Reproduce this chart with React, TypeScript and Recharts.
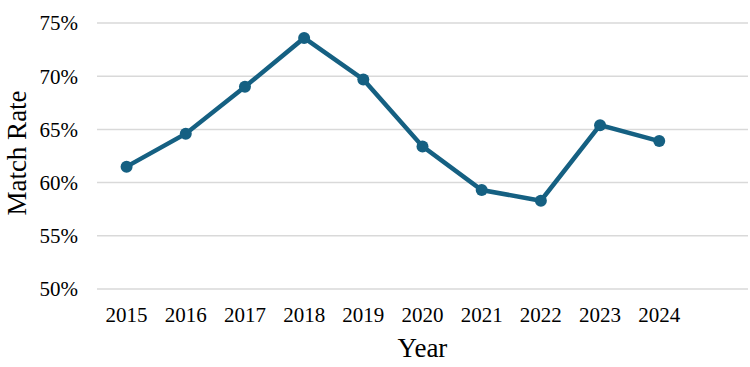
import { LineChart, Line, XAxis, YAxis, CartesianGrid } from 'recharts'

const years = [2015, 2016, 2017, 2018, 2019, 2020, 2021, 2022, 2023, 2024]
const matchRate = [61.5, 64.6, 69.0, 73.6, 69.7, 63.4, 59.3, 58.3, 65.4, 63.9]
const rateTicks = [50, 55, 60, 65, 70, 75]

const data = years.map((year, i) => ({ year, rate: matchRate[i] }))

const FONT = '"Liberation Serif", "Times New Roman", serif'
const LINE_COLOR = '#156082'
const CHART_MARGIN = { top: 23, right: 2, bottom: 0, left: 0 }
const AXIS_TICK = { fontSize: 21, fill: '#000', fontFamily: FONT }
const TITLE_STYLE = { fontSize: 27, fill: '#000', fontFamily: FONT }
const LINE_DOT = { r: 6, fill: LINE_COLOR, stroke: LINE_COLOR, strokeWidth: 0 }

const pctFormatter = (v: number) => `${v}%`

export default function App() {
  return (
    <div style={{ position: 'fixed', left: 0, top: 0, width: 750, height: 367, background: '#fff' }}>
      <LineChart width={750} height={367} data={data} margin={CHART_MARGIN}>
        <CartesianGrid vertical={false} stroke="#d9d9d9" strokeWidth={1.5} />
        <XAxis
          dataKey="year"
          type="number"
          domain={[2014.5, 2025.5]}
          ticks={years}
          interval={0}
          tick={AXIS_TICK}
          tickLine={false}
          axisLine={false}
          tickMargin={12}
          height={78}
          label={{ value: 'Year', position: 'insideBottom', offset: 10, style: TITLE_STYLE }}
        />
        <YAxis
          domain={[50, 75]}
          ticks={rateTicks}
          tick={AXIS_TICK}
          tickLine={false}
          axisLine={false}
          tickMargin={13}
          width={97}
          tickFormatter={pctFormatter}
          label={{
            value: 'Match Rate',
            angle: -90,
            position: 'insideLeft',
            offset: 16,
            dy: -3,
            style: { ...TITLE_STYLE, textAnchor: 'middle' },
          }}
        />
        <Line
          type="linear"
          dataKey="rate"
          stroke={LINE_COLOR}
          strokeWidth={4.5}
          dot={LINE_DOT}
          activeDot={false}
          isAnimationActive={false}
        />
      </LineChart>
    </div>
  )
}
